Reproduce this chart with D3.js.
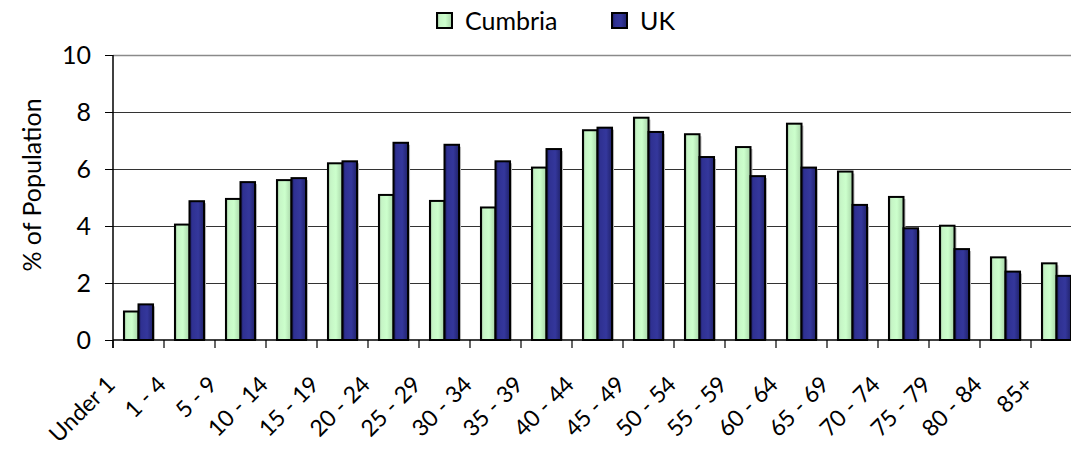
<!DOCTYPE html>
<html>
<head>
<meta charset="utf-8">
<script src="https://cdn.jsdelivr.net/npm/d3@7"></script>
<style>
  html, body { margin: 0; padding: 0; background: #fff; }
  svg { display: block; font-family: Lato, "Open Sans", sans-serif; }
</style>
</head>
<body>
<svg id="chart" width="1071" height="452"></svg>
<script>
const categories = ["Under 1", "1 - 4", "5 - 9", "10 - 14", "15 - 19", "20 - 24", "25 - 29",
  "30 - 34", "35 - 39", "40 - 44", "45 - 49", "50 - 54", "55 - 59", "60 - 64",
  "65 - 69", "70 - 74", "75 - 79", "80 - 84", "85+"];
const cumbria = [1.0, 4.05, 4.95, 5.61, 6.2, 5.09, 4.88, 4.65, 6.05, 7.36,
  7.8, 7.22, 6.77, 7.59, 5.91, 5.02, 4.01, 2.9, 2.69];
const uk = [1.25, 4.87, 5.54, 5.68, 6.27, 6.92, 6.85, 6.27, 6.7, 7.45,
  7.3, 6.42, 5.75, 6.05, 4.74, 3.92, 3.19, 2.4, 2.25];
const seriesNames = ["Cumbria", "UK"];
const yTicks = [0, 2, 4, 6, 8, 10];

const svg = d3.select("#chart");
const plotL = 113, plotR = 1082, plotT = 55, plotB = 340;

const x = d3.scaleBand().domain(categories).range([plotL, plotR])
  .paddingInner(0.43).paddingOuter(0.215);
const xs = d3.scaleBand().domain(seriesNames).range([0, x.bandwidth()]);
const y = d3.scaleLinear().domain([0, 10]).range([plotB, plotT]);

// gradients for the bar fills
const defs = svg.append("defs");
const grads = {
  Cumbria: [["0%", "#8fae8f"], ["18%", "#c6f5c6"], ["55%", "#ccffcc"], ["100%", "#a8d4a8"]],
  UK: [["0%", "#1c1c5e"], ["20%", "#2f3192"], ["60%", "#34379c"], ["100%", "#20226a"]]
};
Object.entries(grads).forEach(([name, stops]) => {
  const lg = defs.append("linearGradient").attr("id", "g-" + name)
    .attr("x1", "0%").attr("x2", "100%").attr("y1", "0%").attr("y2", "0%");
  stops.forEach(([o, c]) => lg.append("stop").attr("offset", o).attr("stop-color", c));
});

// gridlines
svg.append("g")
  .selectAll("line")
  .data(yTicks.filter((d) => d > 0))
  .join("line")
  .attr("x1", plotL).attr("x2", 1071)
  .attr("y1", (d) => Math.round(y(d)) + 0.5)
  .attr("y2", (d) => Math.round(y(d)) + 0.5)
  .attr("stroke", (d) => (d === 10 ? "#8a8a8a" : "#333"))
  .attr("stroke-width", (d) => (d === 10 ? 1.5 : 1));

// bars
const rows = categories.map((c, i) => ({ cat: c, vals: [["Cumbria", cumbria[i]], ["UK", uk[i]]] }));
const grp = svg.append("g")
  .selectAll("g")
  .data(rows)
  .join("g")
  .attr("transform", (d) => `translate(${x(d.cat)},0)`);

grp.selectAll("rect.shadow")
  .data((d) => d.vals)
  .join("rect")
  .attr("class", "shadow")
  .attr("x", (d) => xs(d[0]) + 2)
  .attr("y", (d) => y(d[1]) + 2)
  .attr("width", xs.bandwidth())
  .attr("height", (d) => plotB - y(d[1]) - 2)
  .attr("fill", "#bbb");

grp.selectAll("rect.bar")
  .data((d) => d.vals)
  .join("rect")
  .attr("class", "bar")
  .attr("x", (d) => xs(d[0]))
  .attr("y", (d) => y(d[1]))
  .attr("width", xs.bandwidth())
  .attr("height", (d) => plotB - y(d[1]))
  .attr("fill", (d) => `url(#g-${d[0]})`)
  .attr("stroke", "#000")
  .attr("stroke-width", 2);

// x axis line and ticks at category boundaries
svg.append("line")
  .attr("x1", plotL).attr("x2", 1071)
  .attr("y1", plotB).attr("y2", plotB)
  .attr("stroke", "#000").attr("stroke-width", 1.5);
svg.append("g")
  .selectAll("line")
  .data(d3.range(categories.length + 1))
  .join("line")
  .attr("x1", (i) => plotL + i * x.step())
  .attr("x2", (i) => plotL + i * x.step())
  .attr("y1", plotB).attr("y2", plotB + 8)
  .attr("stroke", "#000").attr("stroke-width", 1.2);

svg.append("g")
  .selectAll("text")
  .data(categories)
  .join("text")
  .attr("text-anchor", "end")
  .attr("font-size", "23px")
  .attr("fill", "#000")
  .attr("transform", (d) => `translate(${x(d) + x.bandwidth() / 2 - 22},386) rotate(-45)`)
  .text((d) => d);

// y axis
const yAxis = svg.append("g")
  .attr("transform", `translate(${plotL},0)`)
  .call(d3.axisLeft(y).tickValues(yTicks).tickSize(8).tickPadding(14).tickFormat(d3.format("d")));
yAxis.select(".domain").attr("d", `M0,${plotT}V${plotB + 8}`).attr("stroke", "#000").attr("stroke-width", 1.5);
yAxis.selectAll(".tick line").attr("stroke", "#000");
yAxis.selectAll(".tick text").attr("font-size", "25px").attr("font-family", "Lato, sans-serif").attr("fill", "#000");

svg.append("text")
  .attr("transform", "translate(41,185) rotate(-90)")
  .attr("text-anchor", "middle")
  .attr("font-size", "25px")
  .text("% of Population");

// legend
const legend = svg.append("g")
  .selectAll("g")
  .data(seriesNames)
  .join("g")
  .attr("transform", (d, i) => `translate(${[437, 612][i]},13)`);
legend.append("rect")
  .attr("width", 15).attr("height", 15)
  .attr("fill", (d) => `url(#g-${d})`)
  .attr("stroke", "#000").attr("stroke-width", 2);
legend.append("text")
  .attr("x", 28).attr("y", 17)
  .attr("font-size", "25px")
  .text((d) => d);
</script>
</body>
</html>
